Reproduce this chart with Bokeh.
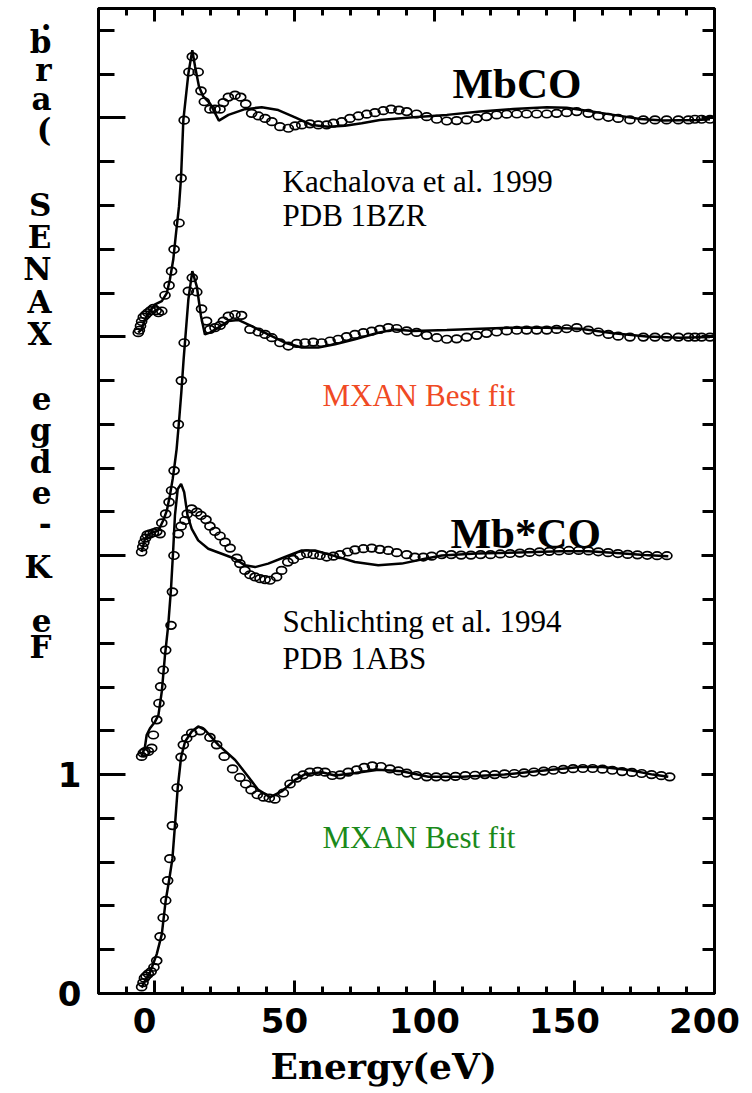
import numpy as np
from bokeh.plotting import figure
from bokeh.models import Range1d, LinearAxis, FixedTicker, Label, Title
from bokeh.embed import file_html
from bokeh.resources import INLINE

# ---------------- data (normalized absorption, each spectrum stacked by an offset) ----------------
offsets = [0, 1, 2, 3]

# 1) Mb*CO  MXAN best fit  (bottom)
fit1_x = [-4.6, -3.4, -1.6, 0.8, 2.6, 4.0, 5.2, 6.4, 7.3, 8.3, 9.5, 10.9, 13.3, 15.6, 18.0, 22.8, 28.8,
          33.5, 37.1, 41.3, 45.4, 50.2, 53.8, 59.7, 64.5, 71.6, 79.9, 88.3, 97.8, 110, 125, 140, 152,
          160, 170, 178, 183.5]
fit1_y = [0.027, 0.058, 0.096, 0.18, 0.27, 0.425, 0.516, 0.616, 0.767, 0.94, 1.08, 1.15, 1.197, 1.22,
          1.204, 1.136, 1.067, 0.99, 0.93, 0.897, 0.923, 0.976, 1.002, 1.011, 0.996, 1.007, 1.022, 1.015,
          0.99, 0.99, 1.0, 1.02, 1.035, 1.035, 1.02, 1.0, 0.99]
exp1_x = [-4.6, -4.1, -3.6, -3.0, -2.2, -1.2, -0.2, 0.8, 2.0, 3.1, 4.0, 4.7, 5.5, 6.4, 8.1, 9.5, 10.3,
          11.5, 13.3, 16.3, 19.8, 22.2, 24.9, 27.9, 30.5, 32.6, 34.5, 36.7, 38.9, 41.0, 43.0, 46.0, 48.4,
          50.8, 53.1, 55.5, 58.3, 60.9, 63.5, 66.3, 69.2, 72.2, 74.9, 77.8, 80.9, 84.1, 87.1, 90.1, 93.6,
          97.2, 100.6, 104, 107.5, 111, 114.5, 118, 121.5, 125, 128.5, 132, 135.5, 139, 142.5, 146, 149.5,
          153, 156.5, 160, 163.5, 167, 170.5, 174, 177.5, 181, 184]
exp1_y = [0.03, 0.05, 0.07, 0.08, 0.09, 0.1, 0.12, 0.15, 0.26, 0.346, 0.425, 0.516, 0.616, 0.767, 0.94,
          1.08, 1.136, 1.166, 1.19, 1.2, 1.17, 1.136, 1.083, 1.026, 0.987, 0.957, 0.93, 0.908, 0.897,
          0.893, 0.888, 0.916, 0.957, 0.984, 0.999, 1.011, 1.015, 1.011, 0.996, 0.999, 1.011, 1.022,
          1.033, 1.04, 1.037, 1.026, 1.017, 1.007, 0.996, 0.99, 0.99, 0.99, 0.992, 0.995, 0.997, 1.0,
          1.0, 1.003, 1.005, 1.008, 1.012, 1.016, 1.02, 1.024, 1.027, 1.028, 1.028, 1.025, 1.02, 1.014,
          1.01, 1.005, 1.0, 0.995, 0.99]

# 2) Mb*CO  Schlichting et al. 1994, PDB 1ABS
fit2_x = [-4.6, -3.4, -2.8, -1.6, 0.2, 1.4, 2.6, 3.75, 4.9, 5.9, 6.7, 7.3, 8.3, 9.5, 10.6, 11.8, 13.3,
          15.6, 19.2, 24.0, 28.75, 32.3, 35.9, 40.6, 46.6, 52.6, 57.3, 64.5, 71.6, 79.9, 88.3, 96.6,
          102.6, 115, 130, 145, 155, 165, 175, 183.5]
fit2_y = [0.083, 0.128, 0.181, 0.212, 0.242, 0.272, 0.379, 0.546, 0.682, 0.85, 1.032, 1.184, 1.305,
          1.328, 1.29, 1.184, 1.123, 1.07, 1.032, 1.009, 0.986, 0.956, 0.948, 0.964, 0.994, 1.024,
          1.024, 0.998, 0.971, 0.956, 0.964, 0.986, 1.001, 1.01, 1.015, 1.02, 1.02, 1.012, 1.003, 0.998]
exp2_x = [-4.6, -4.0, -3.4, -2.2, -1.0, -0.4, 0.8, 1.6, 2.2, 3.1, 4.0, 5.9, 6.4, 6.96, 8.5, 9.5, 10.9,
          11.7, 13.3, 15.1, 16.6, 18.4, 19.8, 21.6, 23.4, 25.2, 27.0, 29.4, 30.5, 32.3, 34.1, 35.9,
          37.7, 39.5, 41.25, 43.6, 45.4, 47.6, 49.6, 52.0, 54.4, 56.7, 59.1, 61.5, 63.9, 66.25, 69.0,
          71.6, 74.6, 77.6, 80.5, 83.5, 86.5, 90.1, 93.0, 96.0, 99.0, 102.6, 106, 109.5, 113, 116.5,
          120, 123.5, 127, 130.5, 134, 137.5, 141, 144.5, 148, 151.5, 155, 158.5, 162, 165.5, 169,
          172.5, 176, 179.5, 183]
exp2_y = [0.083, 0.098, 0.105, 0.106, 0.121, 0.181, 0.25, 0.326, 0.402, 0.478, 0.569, 0.682, 0.835,
          1.001, 1.1, 1.135, 1.161, 1.191, 1.214, 1.199, 1.184, 1.165, 1.135, 1.111, 1.09, 1.062,
          1.035, 0.989, 0.964, 0.933, 0.913, 0.903, 0.895, 0.891, 0.888, 0.903, 0.933, 0.971, 0.983,
          1.001, 1.009, 1.005, 1.001, 0.994, 0.998, 1.005, 1.017, 1.027, 1.032, 1.035, 1.029, 1.024,
          1.014, 1.005, 0.994, 0.994, 0.998, 1.005, 1.005, 1.003, 1.003, 1.005, 1.005, 1.008, 1.01,
          1.012, 1.015, 1.018, 1.02, 1.022, 1.024, 1.024, 1.022, 1.018, 1.014, 1.01, 1.006, 1.004,
          1.002, 1.0, 1.0]

# 3) MbCO  MXAN best fit
fit3_x = [-4.6, -3.4, -2.2, -0.4, 1.4, 3.1, 4.4, 5.5, 6.5, 7.3, 7.9, 8.8, 9.6, 10.4, 12.1, 13.5, 15.1,
          16.6, 18.0, 19.8, 22.8, 26.4, 29.9, 34.7, 40.6, 46.6, 52.6, 58.5, 64.5, 71.6, 79.9, 85.9,
          92.4, 104.4, 116.3, 128.1, 140.1, 152, 163.9, 175.8, 187.7, 198.4]
fit3_y = [0.017, 0.077, 0.096, 0.108, 0.115, 0.161, 0.206, 0.275, 0.351, 0.427, 0.487, 0.62, 0.75,
          0.897, 1.171, 1.30, 1.231, 1.095, 1.011, 1.019, 1.042, 1.072, 1.077, 1.049, 1.011, 0.973,
          0.951, 0.951, 0.966, 0.989, 1.019, 1.034, 1.027, 1.031, 1.037, 1.042, 1.042, 1.037, 1.016,
          1.001, 0.996, 0.999]
exp3_x = [-4.6, -4.2, -3.8, -3.2, -2.6, -1.6, -0.4, 0.8, 2.0, 2.6, 4.0, 5.2, 6.1, 7.0, 8.5, 9.6, 10.6,
          12.1, 13.5, 15.1, 16.8, 18.6, 19.8, 21.6, 23.4, 24.6, 26.4, 28.75, 31.1, 34.1, 37.1, 39.5,
          41.9, 44.8, 47.8, 50.8, 53.75, 56.7, 59.7, 62.7, 65.6, 68.6, 71.6, 74.6, 77.6, 80.5, 83.5,
          86.5, 90.1, 93.6, 97.2, 100.8, 104.4, 107.9, 111.5, 115.1, 118.6, 122.2, 125.8, 129.4, 132.9,
          136.5, 140.1, 143.6, 147.2, 150.8, 154.9, 158.5, 162.1, 165.6, 169.8, 174.6, 178.75, 182.9,
          187.1, 190.7, 193.0, 195.4, 198.4]
exp3_y = [0.017, 0.04, 0.06, 0.08, 0.095, 0.1, 0.105, 0.11, 0.10, 0.15, 0.191, 0.245, 0.298, 0.389,
          0.6, 0.8, 0.973, 1.209, 1.27, 1.205, 1.128, 1.072, 1.034, 1.042, 1.052, 1.072, 1.095, 1.102,
          1.098, 1.034, 1.022, 1.011, 0.996, 0.973, 0.958, 0.97, 0.973, 0.976, 0.973, 0.981, 0.989,
          1.001, 1.011, 1.019, 1.026, 1.034, 1.042, 1.038, 1.027, 1.02, 1.007, 0.996, 0.989, 0.991,
          0.999, 1.007, 1.016, 1.022, 1.027, 1.03, 1.031, 1.031, 1.031, 1.034, 1.037, 1.042, 1.031,
          1.022, 1.011, 1.003, 0.999, 0.999, 0.999, 0.999, 0.999, 0.999, 0.999, 0.999, 0.999]

# 4) MbCO  Kachalova et al. 1999, PDB 1BZR  (top)
fit4_x = [-5.8, -4.6, -3.4, -1.6, 0.2, 2.6, 4.4, 5.5, 6.7, 7.7, 8.75, 9.5, 10.3, 12.1, 13.5, 14.5, 15.9,
          17.4, 19.8, 23.0, 26.4, 32.3, 38.3, 44.2, 50.2, 56.1, 62.1, 68.0, 74.0, 80.5, 92.4, 104.4,
          116.3, 128.1, 140.1, 147.2, 154.4, 163.9, 173.4, 181.7, 193.6, 198.4]
fit4_y = [0.019, 0.034, 0.08, 0.118, 0.148, 0.163, 0.2, 0.262, 0.353, 0.475, 0.596, 0.733, 0.99, 1.203,
          1.31, 1.234, 1.143, 1.098, 1.067, 0.988, 1.014, 1.04, 1.049, 1.036, 1.003, 0.968, 0.96, 0.964,
          0.976, 0.991, 1.003, 1.014, 1.029, 1.041, 1.049, 1.047, 1.033, 1.014, 0.995, 0.988, 0.991,
          0.994]
exp4_x = [-5.8, -5.4, -5.0, -4.6, -4.0, -3.2, -2.4, -1.4, -0.4, 0.6, 1.4, 2.6, 3.75, 5.2, 6.1, 7.0, 8.75,
          9.5, 10.6, 12.3, 13.5, 15.6, 16.6, 17.8, 19.8, 21.6, 23.4, 24.6, 26.4, 28.75, 30.8, 32.6, 34.7,
          37.1, 39.5, 41.9, 44.8, 47.8, 50.2, 52.6, 55.5, 58.5, 61.5, 63.9, 66.9, 69.8, 72.8, 75.8,
          78.75, 81.7, 84.5, 87.3, 90.1, 93.6, 97.2, 100.8, 104.4, 107.9, 111.5, 115.1, 118.6, 122.2,
          125.8, 129.4, 132.9, 136.5, 140.1, 143.6, 147.2, 150.8, 154.9, 158.5, 162.1, 165.6, 169.8,
          174.6, 178.75, 182.9, 187.1, 190.7, 193.0, 195.4, 198.4]
exp4_y = [0.019, 0.03, 0.05, 0.07, 0.09, 0.1, 0.11, 0.12, 0.13, 0.12, 0.11, 0.118, 0.19, 0.235, 0.3,
          0.4, 0.52, 0.725, 0.99, 1.21, 1.28, 1.21, 1.124, 1.074, 1.04, 1.04, 1.04, 1.07, 1.095, 1.104,
          1.095, 1.064, 1.021, 1.009, 0.998, 0.983, 0.96, 0.953, 0.964, 0.968, 0.973, 0.968, 0.968,
          0.976, 0.983, 0.998, 1.009, 1.017, 1.024, 1.033, 1.04, 1.036, 1.029, 1.018, 1.006, 0.994,
          0.986, 0.988, 0.991, 0.998, 1.006, 1.014, 1.017, 1.018, 1.018, 1.018, 1.018, 1.021, 1.024,
          1.029, 1.021, 1.009, 1.003, 0.998, 0.991, 0.991, 0.991, 0.991, 0.991, 0.991, 0.994, 0.994,
          0.994]

fits = [(fit1_x, fit1_y), (fit2_x, fit2_y), (fit3_x, fit3_y), (fit4_x, fit4_y)]
exps = [(exp1_x, exp1_y), (exp2_x, exp2_y), (exp3_x, exp3_y), (exp4_x, exp4_y)]

x_major = [0, 50, 100, 150, 200]
x_labels = ["0", "50", "100", "150", "200"]
y_major = [0, 1, 2, 3, 4]
y_labeled = [0, 1]
y_labels = ["0", "1"]
x_title = "Energy(eV)"
y_title = "Fe K-edge XANES (arb."   # drawn reversed, one character per row, as in the original

# ---------------- layout ----------------
W, H = 752, 1093
FL, FR, FT, FB = 98, 714, 8, 996
XR = (-20, 200)
YR = (0, 4.5)


def dx(px):
    return XR[0] + (px - FL) / (FR - FL) * (XR[1] - XR[0])


def dy(py):
    return YR[1] - (py - FT) / (FB - FT) * (YR[1] - YR[0])


p = figure(width=W, height=H, x_range=Range1d(*XR), y_range=Range1d(*YR),
           output_backend="svg", toolbar_location=None,
           x_axis_location=None, y_axis_location=None,
           min_border_left=FL, min_border_right=W - FR, min_border_top=FT, min_border_bottom=H - FB)
p.grid.visible = False
p.outline_line_color = "black"
p.outline_line_width = 3
p.background_fill_color = "white"
p.border_fill_color = "white"

x_minor = [float(v) for v in np.arange(-20, 201, 10)]
y_minor = [round(float(v), 2) for v in np.arange(0, 4.51, 0.2)]


def tick_axis(ticks, minor, major_in, minor_in):
    # tick marks only; its own labels are not drawn
    ax = LinearAxis(ticker=FixedTicker(ticks=ticks, minor_ticks=minor))
    ax.major_tick_in = major_in
    ax.major_tick_out = 0
    ax.minor_tick_in = minor_in
    ax.minor_tick_out = 0
    ax.major_tick_line_width = 3
    ax.minor_tick_line_width = 3
    ax.axis_line_width = 3
    ax.major_label_text_font_size = "1px"
    ax.major_label_text_color = None
    ax.major_label_standoff = 0
    return ax


def label_axis(ticks, texts, size, font, standoff):
    # labels only, no tick marks and no axis line
    ax = LinearAxis(ticker=FixedTicker(ticks=ticks, minor_ticks=[]))
    ax.major_label_overrides = {t: s for t, s in zip(ticks, texts)}
    ax.major_tick_line_color = None
    ax.minor_tick_line_color = None
    ax.axis_line_color = None
    ax.major_tick_in = 0
    ax.major_tick_out = 0
    ax.major_label_standoff = standoff
    ax.major_label_text_font = font
    ax.major_label_text_font_size = size
    ax.major_label_text_font_style = "bold"
    ax.major_label_text_color = "black"
    return ax


# left: ticks, then the numbers, then the reversed title letters further out
p.add_layout(tick_axis(y_major, y_minor, 27, 16), "left")
p.add_layout(label_axis(y_labeled, y_labels, "34px", "DejaVu Sans", 17), "left")

ylab_chars = [c for c in reversed(y_title) if c != " "]
ylab_py = [8.5, 42, 70, 99, 130, 205, 237, 269, 302, 334, 400, 431, 463, 494, 524, 568, 622, 648]
ylab_ticks = [round(dy(v), 5) for v in ylab_py]
p.add_layout(label_axis(ylab_ticks, ylab_chars, "31px", "DejaVu Serif", 3), "left")

p.add_layout(tick_axis(y_major, y_minor, 13, 12), "right")
p.add_layout(tick_axis(x_major, x_minor, 13, 7), "above")
p.add_layout(tick_axis(x_major, x_minor, 13, 7), "below")

# bottom numbers drawn slightly left of their ticks, as in the original
shift = round(dx(FL - 10) - dx(FL), 5)
xlab_ticks = [round(t + shift, 5) for t in x_major]
xlab_axis = label_axis(xlab_ticks, x_labels, "34px", "DejaVu Sans", 14)
xlab_axis.major_label_text_line_height = 1.0
p.add_layout(xlab_axis, "below")

p.add_layout(Title(text=x_title, align="left", offset=270 - FL, text_font="DejaVu Serif",
                   text_font_size="36px", text_font_style="bold", text_color="black",
                   text_line_height=1.0, standoff=14), "below")

# ---------------- spectra ----------------
for (fx, fy), (ex, ey), off in zip(fits, exps, offsets):
    p.line(fx, [v + off for v in fy], line_color="black", line_width=2.5)
    p.ellipse(ex, [v + off for v in ey], width=10, height=7.5,
              width_units="screen", height_units="screen",
              fill_color=None, line_color="black", line_width=1.7)

# ---------------- texts inside the frame ----------------
SERIF = "Liberation Serif"


def add_label(x, y, text, size, color="black", bold=False):
    p.add_layout(Label(x=x, y=y, text=text, text_font=SERIF, text_font_size=size,
                       text_color=color, text_font_style="bold" if bold else "normal",
                       text_align="left", text_baseline="alphabetic"))


add_label(dx(452), dy(83), "MbCO", "43px", bold=True)
add_label(dx(282), dy(182), "Kachalova et al. 1999", "31px")
add_label(dx(282), dy(216), "PDB 1BZR", "31px")
add_label(dx(322), dy(396), "MXAN Best fit", "31px", color="#f04a24")
add_label(dx(450), dy(535), "Mb*CO", "43px", bold=True)
add_label(dx(282), dy(623), "Schlichting et al. 1994", "31px")
add_label(dx(282), dy(660), "PDB 1ABS", "31px")
add_label(dx(322), dy(840), "MXAN Best fit", "31px", color="#1a8a1a")

open("out.html", "w").write(file_html(p, INLINE))
